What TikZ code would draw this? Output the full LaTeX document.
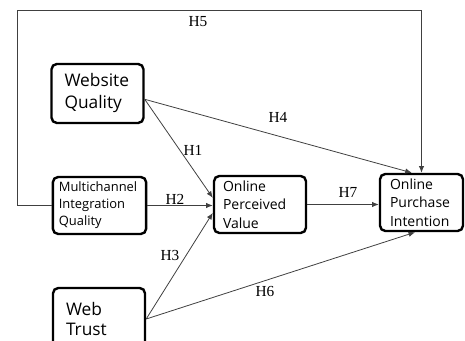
\documentclass[tikz,border=0pt]{standalone}
\usepackage{fontspec}
\setmainfont{Liberation Serif}
\newfontfamily\boxfont{Open Sans}
\usetikzlibrary{arrows.meta}

\tikzset{
  box/.style={draw, line width=1.8pt, rounded corners=4pt, align=left, inner ysep=0pt},
  link/.style={line width=0.6pt, draw=black!75, -{Latex[length=5pt,width=4pt]}},
  hyp/.style={font=\fontsize{11.5}{13}\selectfont}
}

\begin{document}
\begin{tikzpicture}[x=0.75pt,y=-0.75pt]
\clip (0,0) rectangle (465,341);
%constructs
\node[box, text width=49.5pt, inner xsep=9.75pt, minimum height=44.25pt, font=\boxfont\fontsize{13}{16.5}\selectfont] (wq) at (97.5,93.5) {Website\\Quality};
\node[box, text width=61pt, inner xsep=4.5pt, minimum height=42.75pt, font=\boxfont\fontsize{9.7}{12.75}\selectfont] (miq) at (99.5,205.5) {Multichannel\\Integration\\Quality};
\node[box, text width=49.5pt, inner xsep=9.75pt, minimum height=46.5pt, font=\boxfont\fontsize{13}{15.5}\selectfont] (wt) at (99,319) {Web\\Trust};
\node[box, text width=55.5pt, inner xsep=6.75pt, minimum height=42.75pt, font=\boxfont\fontsize{10.5}{14}\selectfont] (opv) at (260,204.5) {Online\\Perceived\\Value};
\node[box, text width=47.25pt, inner xsep=7.5pt, minimum height=42.75pt, font=\boxfont\fontsize{10.5}{14}\selectfont] (opi) at (421.5,202.5) {Online\\Purchase\\Intention};
%paths
\coordinate (h5l) at (17,10);
\draw[link] (wq.-7) -- (opv.172);
\draw[link] (miq.east) -- (miq.east -| opv.west);
\draw[link] (wt.east) -- (opv.190);
\draw[link] (wq.-7) -- (opi.108);
\draw[link] (miq.west) -| (h5l) -| (opi.north);
\draw[link] (wt.east) -- (opi.-102);
\draw[link] (opv.east) -- (opv.east -| opi.west);
%labels
\node[hyp] (h1) at (193,150) {H1};
\node[hyp] (h2) at (175,199) {H2};
\node[hyp] (h3) at (170,256) {H3};
\node[hyp] (h4) at (278,117) {H4};
\node[hyp] (h5) at (198,22) {H5};
\node[hyp] (h6) at (265,292) {H6};
\node[hyp] (h7) at (348,192) {H7};
\end{tikzpicture}
\end{document}
